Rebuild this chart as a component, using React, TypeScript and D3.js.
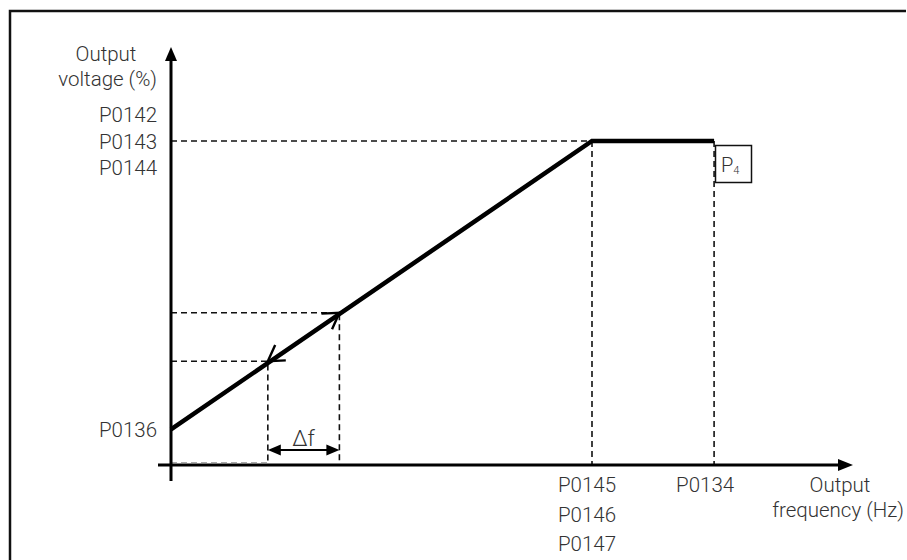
import * as d3 from "d3";

// V/f curve, frequency in % of base frequency, voltage in % of nominal
const curveFreq = [0, 100, 129];
const curveVolt = [11, 100, 100];

// hysteresis band (Δf) points on the ramp
const bandFreq = [23, 40];
const bandVolt = [32, 47];

const yLabels = ["P0142", "P0143", "P0144"];
const yLowLabel = "P0136";
const xBaseLabels = ["P0145", "P0146", "P0147"];
const xMaxLabel = "P0134";

const W = 907;
const H = 560;
const FONT = "Roboto, 'Liberation Sans', sans-serif";
const TEXT = "#333";
const FS = 20.5;

const x = d3.scaleLinear().domain([0, 100]).range([171, 592]);
const y = d3.scaleLinear().domain([0, 100]).range([465, 141]);

const line = d3
  .line<number>()
  .x((_, i) => x(curveFreq[i]))
  .y((_, i) => y(curveVolt[i]));

// open chevron pointing along (dx, dy) with tip at (tx, ty)
const chevron = (tx: number, ty: number, dx: number, dy: number, len = 18, spread = 0.55) => {
  const a = Math.atan2(dy, dx);
  const p1 = [tx - len * Math.cos(a - spread), ty - len * Math.sin(a - spread)];
  const p2 = [tx - len * Math.cos(a + spread), ty - len * Math.sin(a + spread)];
  return `M${p1[0]},${p1[1]}L${tx},${ty}L${p2[0]},${p2[1]}`;
};

export default function App() {
  const x0 = x(0);
  const y0 = y(0);
  const yTop = y(129);
  const xEnd = x(162);
  const fBase = x(curveFreq[1]);
  const fMax = x(curveFreq[2]);
  const vMax = y(curveVolt[1]);
  const [fLo, fHi] = bandFreq.map(x);
  const [vLo, vHi] = bandVolt.map(y);
  const dirX = fBase - x0;
  const dirY = vMax - y(curveVolt[0]);
  const dash = "6,4";

  return (
    <svg
      width={W}
      height={H}
      style={{ position: "absolute", left: 0, top: 0, background: "#fff" }}
      fontFamily={FONT}
      fontWeight={300}
    >
      {/* frame */}
      <path d={`M10,${H}L10,11L906,11`} fill="none" stroke="#111" strokeWidth={2.5} />

      {/* guide lines */}
      <g stroke="#111" strokeWidth={1.6} strokeDasharray={dash} fill="none">
        <path d={`M${x0},${vMax}H${fBase}`} />
        <path d={`M${fBase},${vMax}V${y0}`} />
        <path d={`M${fMax},${vMax}V${y0}`} />
        <path d={`M${x0},${vHi}H${fHi}V${y0}`} />
        <path d={`M${x0},${vLo}H${fLo}V${y0}`} />
      </g>
      <path d={`M${x0},${y0 - 2.5}H${fLo}`} stroke="#aaa" strokeWidth={1} strokeDasharray={dash} />

      {/* axes */}
      <line x1={x0} y1={y0 + 16} x2={x0} y2={yTop + 12} stroke="#000" strokeWidth={3} />
      <path d={`M${x0},${yTop}L${x0 - 6},${yTop + 14}L${x0 + 6},${yTop + 14}Z`} fill="#000" />
      <line x1={158} y1={y0} x2={xEnd - 12} y2={y0} stroke="#000" strokeWidth={3} />
      <path d={`M${xEnd},${y0}L${xEnd - 15},${y0 - 6}L${xEnd - 15},${y0 + 6}Z`} fill="#000" />

      {/* V/f curve */}
      <path d={line(curveFreq) ?? ""} fill="none" stroke="#000" strokeWidth={4.5} />
      <path d={chevron(fHi, vHi, dirX, dirY)} fill="none" stroke="#000" strokeWidth={2.4} />
      <path d={chevron(fLo, vLo, -dirX, -dirY)} fill="none" stroke="#000" strokeWidth={2.4} />

      {/* Δf */}
      <line x1={fLo + 10} y1={450} x2={fHi - 10} y2={450} stroke="#000" strokeWidth={2} />
      <path d={`M${fLo},450L${fLo + 13},444.5L${fLo + 13},455.5Z`} fill="#000" />
      <path d={`M${fHi},450L${fHi - 13},444.5L${fHi - 13},455.5Z`} fill="#000" />
      <text x={(fLo + fHi) / 2} y={446} textAnchor="middle" fontSize={22} fill={TEXT}>
        Δf
      </text>

      {/* P4 box */}
      <rect x={715.5} y={145.5} width={36} height={37} fill="#fff" stroke="#111" strokeWidth={1.5} />
      <text x={721} y={172} fontSize={20} fill={TEXT}>
        P<tspan fontSize={11} dy={2}>4</tspan>
      </text>

      {/* y labels */}
      <g fontSize={FS} fill={TEXT} textAnchor="end">
        <text x={106} y={61} textAnchor="middle">Output</text>
        <text x={157} y={86}>voltage (%)</text>
        {yLabels.map((t, i) => (
          <text key={t} x={157} y={vMax + 7.5 + (i - 1) * 26.5}>
            {t}
          </text>
        ))}
        <text x={157} y={y(curveVolt[0]) + 7.5}>{yLowLabel}</text>
      </g>

      {/* x labels */}
      <g fontSize={FS} fill={TEXT} textAnchor="middle">
        {xBaseLabels.map((t, i) => (
          <text key={t} x={fBase - 5} y={492 + i * 29.5}>
            {t}
          </text>
        ))}
        <text x={fMax - 9} y={492}>{xMaxLabel}</text>
        <text x={840} y={492}>Output</text>
        <text x={838} y={517}>frequency (Hz)</text>
      </g>
    </svg>
  );
}
